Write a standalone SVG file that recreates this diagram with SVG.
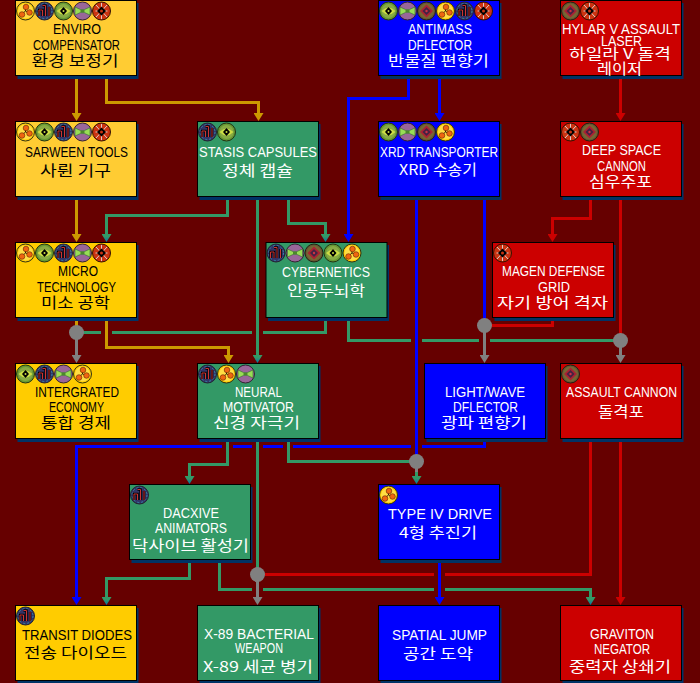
<svg xmlns="http://www.w3.org/2000/svg" width="700" height="683" viewBox="0 0 700 683">
<style>
.c{fill:none;stroke-width:3}
.or{stroke:#cc9900}.gr{stroke:#339966}.bl{stroke:#0000ff}.re{stroke:#cc0000}.gy{stroke:#808080}
.n{fill:#808080}
.s{fill:#003366}
.box{stroke:#000;stroke-width:1}
.y1{fill:#ffcc33}.y2{fill:#ffcc00}.g{fill:#339966}.b{fill:#0000ff}.r{fill:#cc0000}
text{text-anchor:middle}
.l{font-family:"Liberation Sans",Arial,sans-serif;font-size:15px}
.t{font-family:"Liberation Sans",Arial,sans-serif;font-size:14px}
.k{font-family:"Noto Sans CJK KR","Liberation Sans",sans-serif;font-size:14.500px}
.dk text{fill:#000}
.lt text{fill:#fff}
</style>
<defs>
<linearGradient id="gt"><stop offset="0.3" stop-color="#339966"/><stop offset="1" stop-color="#0077aa"/></linearGradient>
<marker id="ao" markerUnits="userSpaceOnUse" markerWidth="10" markerHeight="10" refX="2" refY="5" orient="auto"><path d="M0 0L8 5L0 10z" fill="#cc9900"/></marker>
<marker id="ag" markerUnits="userSpaceOnUse" markerWidth="10" markerHeight="10" refX="2" refY="5" orient="auto"><path d="M0 0L8 5L0 10z" fill="url(#gt)"/></marker>
<marker id="ab" markerUnits="userSpaceOnUse" markerWidth="10" markerHeight="10" refX="2" refY="5" orient="auto"><path d="M0 0L8 5L0 10z" fill="#0000ff"/></marker>
<marker id="ar" markerUnits="userSpaceOnUse" markerWidth="10" markerHeight="10" refX="2" refY="5" orient="auto"><path d="M0 0L8 5L0 10z" fill="#cc0000"/></marker>
<marker id="ay" markerUnits="userSpaceOnUse" markerWidth="10" markerHeight="10" refX="2" refY="5" orient="auto"><path d="M0 0L8 5L0 10z" fill="#808080"/></marker>
<g id="iA">
<circle r="9" fill="#ffcc00" stroke="#333311"/>
<circle r="7.500" fill="#ffdd44"/>
<path d="M0 0L0 -4M0 0L4 1.500M0 0L-3.500 3" stroke="#000" stroke-width="0.800"/>
<circle cx="0.500" cy="-4" r="2.800" fill="#ee6611" stroke="#662200" stroke-width="0.600"/>
<circle cx="4" cy="1.500" r="2.800" fill="#ee6611" stroke="#662200" stroke-width="0.600"/>
<circle cx="-3.500" cy="3.500" r="2.800" fill="#ee6611" stroke="#662200" stroke-width="0.600"/>
</g>
<g id="iB">
<circle r="9" fill="#333366" stroke="#222233"/>
<circle r="7.500" fill="none" stroke="#3388aa" stroke-width="1" stroke-dasharray="2 2"/>
<path d="M-5.500 5V-1H-2V5M-2 -5.500H1V5M4.500 5V-4" fill="none" stroke="#000" stroke-width="2.400"/>
<path d="M-5.500 5V-1H-2V5M-2 -5.500H1V5M4.500 5V-4" fill="none" stroke="#cc3333" stroke-width="1"/>
</g>
<g id="iC">
<circle r="9" fill="#669933" stroke="#223311"/>
<circle r="7" fill="#88aa44"/>
<path d="M-7 0Q0 -7 7 0Q0 7 -7 0z" fill="#ccdd44"/>
<path d="M-3.500 0L0 -4L3.500 0L0 4z" fill="#000"/>
<circle r="1" fill="#ccdd44"/>
</g>
<g id="iD">
<circle r="9" fill="#996699" stroke="#332233"/>
<path d="M-7.500 -4L-2 -1.500H2L7.500 -4V4L2 1.500H-2L-7.500 4z" fill="#99dd55" stroke="#336633" stroke-width="0.600"/>
<path d="M-2 0H2" stroke="#003300"/>
</g>
<g id="iE">
<circle r="9" fill="#cc3311" stroke="#331100"/>
<path d="M-5.500 -6L5.500 6M5.500 -6L-5.500 6M0 -8V8M-6 0H6" stroke="#dddddd" stroke-width="0.900"/>
<path d="M0 -4.500L4.500 0L0 4.500L-4.500 0z" fill="#000"/>
<circle r="1.500" fill="#cc3311"/>
</g>
<g id="iF">
<circle r="9" fill="#665533" stroke="#222211"/>
<circle r="7.500" fill="#776633"/>
<path d="M0 -6.500L6.500 0L0 6.500L-6.500 0z" fill="#aa2233"/>
<path d="M0 -4L4 0L0 4L-4 0z" fill="#442244"/>
<circle r="1.200" fill="#cc3344"/>
</g>
</defs>
<rect width="700" height="683" fill="#660000"/>
<g id="connectors">
<path class="c or" d="M76.500 75V115" marker-end="url(#ao)"/>
<path class="c or" d="M106.500 75V102.500H258.500V115" marker-end="url(#ao)"/>
<path class="c or" d="M76.500 196V236" marker-end="url(#ao)"/>
<path class="c or" d="M106.500 317V347.500H228.500V357" marker-end="url(#ao)"/>
<path class="c or" d="M76.500 317V332"/>
<path class="c gr" d="M227.500 196V215.500H106.500V236" marker-end="url(#ag)"/>
<path class="c gr" d="M257.500 196V357" marker-end="url(#ag)"/>
<path class="c gr" d="M288.500 196V223.500H325.500V236" marker-end="url(#ag)"/>
<path class="c gr" d="M325.500 317V332.500H263M252 332.500H112M101 332.500H76.500"/>
<path class="c gr" d="M348.500 317V340.500H411M422 340.500H479M490 340.500H620.500"/>
<path class="c gr" d="M227.500 438V464.500H189.500V478" marker-end="url(#ag)"/>
<path class="c gr" d="M257.500 438V574.500"/>
<path class="c gr" d="M288.500 438V461.500H416.500"/>
<path class="c gr" d="M189.500 559V578.500H106.500V599" marker-end="url(#ag)"/>
<path class="c gr" d="M219.500 559V589.500H252M263 589.500H434M445 589.500H590.500V599" marker-end="url(#ag)"/>
<path class="c gr" d="M416.500 470V478" marker-end="url(#ag)"/>
<path class="c bl" d="M408.500 75V98.500H348.500V236" marker-end="url(#ab)"/>
<path class="c bl" d="M439.500 75V115" marker-end="url(#ab)"/>
<path class="c bl" d="M416.500 196V461.500"/>
<path class="c bl" d="M484.500 196V325.500"/>
<path class="c bl" d="M484.500 438V446.500H422M411 446.500H293M283 446.500H263M252 446.500H233M222 446.500H76.500V599" marker-end="url(#ab)"/>
<path class="c bl" d="M439.500 559V599" marker-end="url(#ab)"/>
<path class="c re" d="M620.500 75V115" marker-end="url(#ar)"/>
<path class="c re" d="M590.500 196V218.500H552.500V236" marker-end="url(#ar)"/>
<path class="c re" d="M620.500 196V340.500"/>
<path class="c re" d="M552.500 317V325.500H484.500"/>
<path class="c re" d="M590.500 438V574.500H445M434 574.500H257.500"/>
<path class="c re" d="M620.500 438V599" marker-end="url(#ar)"/>
<path class="c gy" d="M76.500 332V357" marker-end="url(#ay)"/>
<path class="c gy" d="M484.500 325V357" marker-end="url(#ay)"/>
<path class="c gy" d="M620.500 340V357" marker-end="url(#ay)"/>
<path class="c gy" d="M257.500 575V599" marker-end="url(#ay)"/>
<path class="c gy" d="M416.500 461V472"/>
<circle class="n" cx="76.500" cy="332.500" r="7.500"/>
<circle class="n" cx="484.500" cy="325.500" r="7.500"/>
<circle class="n" cx="620.500" cy="340.500" r="7.500"/>
<circle class="n" cx="416.500" cy="461.500" r="7.500"/>
<circle class="n" cx="257.500" cy="574.500" r="7.500"/>
</g>
<g id="enviro" class="dk"><rect class="s" x="17.500" y="3" width="121" height="76"/><rect class="box y1" x="15.500" y="0.500" width="121" height="75"/>
<use href="#iA" x="25.500" y="11"/><use href="#iB" x="44.500" y="11"/><use href="#iC" x="63.500" y="11"/><use href="#iD" x="82.500" y="11"/><use href="#iE" x="101.500" y="11"/>
<text class="l" x="77" y="33.500" textLength="48" lengthAdjust="spacingAndGlyphs">ENVIRO</text>
<text class="l" x="76.500" y="50" textLength="87" lengthAdjust="spacingAndGlyphs">COMPENSATOR</text>
<text class="k" x="75" y="66" textLength="87" lengthAdjust="spacingAndGlyphs">환경 보정기</text></g>
<g id="sarween" class="dk"><rect class="s" x="17.500" y="124" width="121" height="76"/><rect class="box y1" x="15.500" y="121.500" width="121" height="75"/>
<use href="#iA" x="25.500" y="132"/><use href="#iC" x="44.500" y="132"/><use href="#iB" x="63.500" y="132"/><use href="#iD" x="82.500" y="132"/><use href="#iE" x="101.500" y="132"/>
<text class="l" x="76.500" y="156.500" textLength="103" lengthAdjust="spacingAndGlyphs">SARWEEN TOOLS</text>
<text class="k" x="75.500" y="176" textLength="71" lengthAdjust="spacingAndGlyphs">사륀 기구</text></g>
<g id="stasis" class="lt"><rect class="s" x="199.500" y="124" width="121" height="76"/><rect class="box g" x="197.500" y="121.500" width="121" height="75"/>
<use href="#iB" x="207.500" y="132"/><use href="#iC" x="226.500" y="132"/>
<text class="l" x="258" y="156.500" textLength="118" lengthAdjust="spacingAndGlyphs">STASIS CAPSULES</text>
<text class="k" x="257.500" y="176" textLength="71" lengthAdjust="spacingAndGlyphs">정체 캡슐</text></g>
<g id="antimass" class="lt"><rect class="s" x="380.500" y="3" width="121" height="76"/><rect class="box b" x="378.500" y="0.500" width="121" height="75"/>
<use href="#iC" x="388.500" y="11"/><use href="#iD" x="407.500" y="11"/><use href="#iF" x="426.500" y="11"/><use href="#iA" x="445.500" y="11"/><use href="#iB" x="464.500" y="11"/><use href="#iE" x="483.500" y="11"/>
<text class="l" x="440" y="33.500" textLength="64" lengthAdjust="spacingAndGlyphs">ANTIMASS</text>
<text class="l" x="440" y="50" textLength="64" lengthAdjust="spacingAndGlyphs">DFLECTOR</text>
<text class="k" x="438.500" y="66" textLength="101" lengthAdjust="spacingAndGlyphs">반물질 편향기</text></g>
<g id="hylar" class="lt"><rect class="s" x="562.500" y="3" width="121" height="76"/><rect class="box r" x="560.500" y="0.500" width="121" height="75"/>
<use href="#iF" x="570.500" y="11"/><use href="#iE" x="589.500" y="11"/>
<text class="t" x="621" y="33.500" textLength="118" lengthAdjust="spacingAndGlyphs">HYLAR V ASSAULT</text>
<text class="t" x="621.500" y="45.500" textLength="41" lengthAdjust="spacingAndGlyphs">LASER</text>
<text class="k" x="620" y="58.500" textLength="102" lengthAdjust="spacingAndGlyphs">하일라 V 돌격</text>
<text class="k" x="619.500" y="74" textLength="45" lengthAdjust="spacingAndGlyphs">레이저</text></g>
<g id="xrd" class="lt"><rect class="s" x="380.500" y="124" width="121" height="76"/><rect class="box b" x="378.500" y="121.500" width="121" height="75"/>
<use href="#iC" x="388.500" y="132"/><use href="#iD" x="407.500" y="132"/><use href="#iF" x="426.500" y="132"/><use href="#iA" x="445.500" y="132"/>
<text class="l" x="439" y="156.500" textLength="118" lengthAdjust="spacingAndGlyphs">XRD TRANSPORTER</text>
<text class="k" x="438" y="175" textLength="78" lengthAdjust="spacingAndGlyphs">XRD 수송기</text></g>
<g id="deepspace" class="lt"><rect class="s" x="562.500" y="124" width="121" height="76"/><rect class="box r" x="560.500" y="121.500" width="121" height="75"/>
<use href="#iE" x="570.500" y="132"/><use href="#iF" x="589.500" y="132"/>
<text class="l" x="621.500" y="155" textLength="79" lengthAdjust="spacingAndGlyphs">DEEP SPACE</text>
<text class="l" x="621.500" y="171" textLength="49" lengthAdjust="spacingAndGlyphs">CANNON</text>
<text class="k" x="620.500" y="187" textLength="63" lengthAdjust="spacingAndGlyphs">심우주포</text></g>
<g id="micro" class="dk"><rect class="s" x="17.500" y="245" width="121" height="76"/><rect class="box y2" x="15.500" y="242.500" width="121" height="75"/>
<use href="#iA" x="25.500" y="253"/><use href="#iC" x="44.500" y="253"/><use href="#iB" x="63.500" y="253"/><use href="#iD" x="82.500" y="253"/><use href="#iE" x="101.500" y="253"/>
<text class="l" x="78" y="275.700" textLength="40" lengthAdjust="spacingAndGlyphs">MICRO</text>
<text class="l" x="76.500" y="291.700" textLength="79" lengthAdjust="spacingAndGlyphs">TECHNOLOGY</text>
<text class="k" x="75.500" y="308" textLength="69" lengthAdjust="spacingAndGlyphs">미소 공학</text></g>
<g id="cybernetics" class="lt"><rect class="s" x="268" y="245" width="121" height="76"/><rect class="box g" x="266" y="242.500" width="121" height="75"/>
<use href="#iB" x="276" y="253"/><use href="#iD" x="295" y="253"/><use href="#iF" x="314" y="253"/><use href="#iC" x="333" y="253"/><use href="#iA" x="352" y="253"/>
<text class="l" x="326" y="276.500" textLength="88" lengthAdjust="spacingAndGlyphs">CYBERNETICS</text>
<text class="k" x="326" y="295.700" textLength="78" lengthAdjust="spacingAndGlyphs">인공두뇌학</text></g>
<g id="magen" class="lt"><rect class="s" x="494.500" y="245" width="121" height="76"/><rect class="box r" x="492.500" y="242.500" width="121" height="75"/>
<use href="#iE" x="502.500" y="253"/>
<text class="l" x="553.500" y="275.700" textLength="103" lengthAdjust="spacingAndGlyphs">MAGEN DEFENSE</text>
<text class="l" x="554" y="291.700" textLength="32" lengthAdjust="spacingAndGlyphs">GRID</text>
<text class="k" x="552.500" y="308" textLength="111" lengthAdjust="spacingAndGlyphs">자기 방어 격자</text></g>
<g id="integrated" class="dk"><rect class="s" x="17.500" y="366" width="121" height="76"/><rect class="box y2" x="15.500" y="363.500" width="121" height="75"/>
<use href="#iC" x="25.500" y="374"/><use href="#iB" x="44.500" y="374"/><use href="#iD" x="63.500" y="374"/><use href="#iA" x="82.500" y="374"/>
<text class="l" x="77" y="396.700" textLength="84" lengthAdjust="spacingAndGlyphs">INTERGRATED</text>
<text class="l" x="76.500" y="411.700" textLength="55" lengthAdjust="spacingAndGlyphs">ECONOMY</text>
<text class="k" x="76" y="428" textLength="70" lengthAdjust="spacingAndGlyphs">통합 경제</text></g>
<g id="neural" class="lt"><rect class="s" x="199.500" y="366" width="121" height="76"/><rect class="box g" x="197.500" y="363.500" width="121" height="75"/>
<use href="#iB" x="207.500" y="374"/><use href="#iA" x="226.500" y="374"/><use href="#iD" x="245.500" y="374"/>
<text class="l" x="258.500" y="396.700" textLength="47" lengthAdjust="spacingAndGlyphs">NEURAL</text>
<text class="l" x="258.500" y="411.700" textLength="71" lengthAdjust="spacingAndGlyphs">MOTIVATOR</text>
<text class="k" x="256.500" y="428" textLength="87" lengthAdjust="spacingAndGlyphs">신경 자극기</text></g>
<g id="lightwave" class="lt"><rect class="s" x="426.500" y="366" width="121" height="76"/><rect class="box b" x="424.500" y="363.500" width="121" height="75"/>
<text class="l" x="485" y="396.700" textLength="80" lengthAdjust="spacingAndGlyphs">LIGHT/WAVE</text>
<text class="l" x="485.500" y="411.700" textLength="65" lengthAdjust="spacingAndGlyphs">DFLECTOR</text>
<text class="k" x="484" y="428" textLength="86" lengthAdjust="spacingAndGlyphs">광파 편향기</text></g>
<g id="assault" class="lt"><rect class="s" x="562.500" y="366" width="121" height="76"/><rect class="box r" x="560.500" y="363.500" width="121" height="75"/>
<use href="#iF" x="570.500" y="374"/>
<text class="t" x="621.500" y="396.700" textLength="111" lengthAdjust="spacingAndGlyphs">ASSAULT CANNON</text>
<text class="k" x="621" y="417" textLength="46" lengthAdjust="spacingAndGlyphs">돌격포</text></g>
<g id="dacxive" class="lt"><rect class="s" x="131.500" y="487" width="121" height="76"/><rect class="box g" x="129.500" y="484.500" width="121" height="75"/>
<use href="#iB" x="139.500" y="495"/>
<text class="l" x="191" y="518" textLength="56" lengthAdjust="spacingAndGlyphs">DACXIVE</text>
<text class="l" x="191" y="533" textLength="72" lengthAdjust="spacingAndGlyphs">ANIMATORS</text>
<text class="k" x="190.500" y="550.700" textLength="117" lengthAdjust="spacingAndGlyphs">닥사이브 활성기</text></g>
<g id="typeiv" class="lt"><rect class="s" x="380.500" y="487" width="121" height="76"/><rect class="box b" x="378.500" y="484.500" width="121" height="75"/>
<use href="#iA" x="388.500" y="495"/>
<text class="l" x="440" y="519" textLength="104" lengthAdjust="spacingAndGlyphs">TYPE IV DRIVE</text>
<text class="k" x="438" y="538" textLength="78" lengthAdjust="spacingAndGlyphs">4형 추진기</text></g>
<g id="transit" class="dk"><rect class="s" x="17.500" y="608" width="121" height="76"/><rect class="box y2" x="15.500" y="605.500" width="121" height="75"/>
<use href="#iB" x="25.500" y="616"/>
<text class="l" x="77" y="640" textLength="110" lengthAdjust="spacingAndGlyphs">TRANSIT DIODES</text>
<text class="k" x="75.500" y="658" textLength="103" lengthAdjust="spacingAndGlyphs">전송 다이오드</text></g>
<g id="x89" class="lt"><rect class="s" x="199.500" y="608" width="121" height="76"/><rect class="box g" x="197.500" y="605.500" width="121" height="75"/>
<text class="l" x="259" y="639" textLength="110" lengthAdjust="spacingAndGlyphs">X-89 BACTERIAL</text>
<text class="l" x="259" y="653" textLength="48" lengthAdjust="spacingAndGlyphs">WEAPON</text>
<text class="k" x="258" y="672" textLength="110" lengthAdjust="spacingAndGlyphs">X-89 세균 병기</text></g>
<g id="spatial" class="lt"><rect class="s" x="380.500" y="608" width="121" height="76"/><rect class="box b" x="378.500" y="605.500" width="121" height="75"/>
<text class="l" x="439.500" y="640" textLength="95" lengthAdjust="spacingAndGlyphs">SPATIAL JUMP</text>
<text class="k" x="438" y="659" textLength="70" lengthAdjust="spacingAndGlyphs">공간 도약</text></g>
<g id="graviton" class="lt"><rect class="s" x="562.500" y="608" width="121" height="76"/><rect class="box r" x="560.500" y="605.500" width="121" height="75"/>
<text class="l" x="622" y="639" textLength="64" lengthAdjust="spacingAndGlyphs">GRAVITON</text>
<text class="l" x="622" y="654" textLength="56" lengthAdjust="spacingAndGlyphs">NEGATOR</text>
<text class="k" x="620" y="672" textLength="102" lengthAdjust="spacingAndGlyphs">중력자 상쇄기</text></g>
</svg>
